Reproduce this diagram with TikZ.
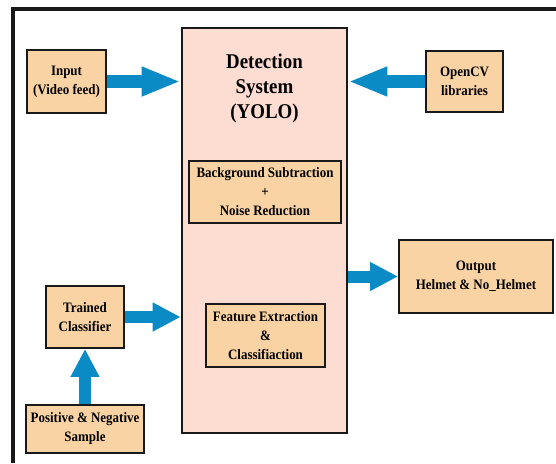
\documentclass[tikz,border=0pt]{standalone}
\usepackage{fontspec}
\setmainfont{Liberation Serif}
\newfontfamily\condfont[FakeStretch=0.9]{Liberation Serif}
\usepackage{xcolor}
\usepackage{tikz}
\usetikzlibrary{arrows.meta}

\definecolor{boxfill}{HTML}{FAD3A4}
\definecolor{mainfill}{HTML}{FDDCD1}
\definecolor{arrowblue}{HTML}{0A8BC6}

\begin{document}
\begin{tikzpicture}[
    x=1pt, y=-1pt,
    block/.style={rectangle, draw=black!90, line width=1.8pt, fill=boxfill,
                  align=center, inner sep=2pt,
                  font=\condfont\fontsize{14.4}{19}\selectfont\bfseries},
    mainbox/.style={rectangle, draw=black!90, line width=2.6pt, fill=mainfill,
                    minimum width=165pt, minimum height=405pt},
    fat/.style={draw=arrowblue, line width=13pt,
                -{Triangle[length=39pt, width=27pt]}},
    fatshort/.style={draw=arrowblue, line width=12pt,
                -{Triangle[length=28pt, width=27pt]}},
]
\useasboundingbox[fill=white] (0,0) rectangle (556,463);
% frame (top and left edges only)
\draw[line width=4.5pt, black!90] (556,9) -- (13,9) -- (13,463);

% centre block
\node[mainbox] (main) at (264.5,230.5) {};
\node[align=center, font=\condfont\fontsize{21}{25}\selectfont\bfseries] (title) at (264.5,88) {Detection\\System\\(YOLO)};
\node[block, minimum width=152pt, minimum height=62pt] (bgsub) at (265,192) {Background Subtraction\\+\\Noise Reduction};
\node[block, minimum width=119pt, minimum height=63pt] (feat) at (265.5,335.5) {Feature Extraction\\\&\\Classifiaction};

% side blocks
\node[block, minimum width=79pt, minimum height=63pt] (input) at (66.5,81.5) {Input\\(Video feed)};
\node[block, minimum width=77pt, minimum height=61pt] (opencv) at (464.5,81.5) {OpenCV\\libraries};
\node[block, minimum width=154pt, minimum height=73pt] (output) at (476,276.5) {Output\\Helmet \& No\_Helmet};
\node[block, minimum width=78pt, minimum height=62pt] (trained) at (85,317) {Trained\\Classifier};
\node[block, minimum width=118pt, minimum height=48pt] (sample) at (85,429) {Positive \& Negative\\Sample};

% arrows
\draw[fat] (input.east) -- (input.east -| main.west);
\draw[fat] (opencv.west) -- (opencv.west -| main.east);
\draw[fatshort] (output.west -| main.east) -- (output.west);
\draw[fatshort] (trained.east) -- (trained.east -| main.west);
\draw[fatshort] (sample.north -| trained.south) -- (trained.south);
\end{tikzpicture}
\end{document}
